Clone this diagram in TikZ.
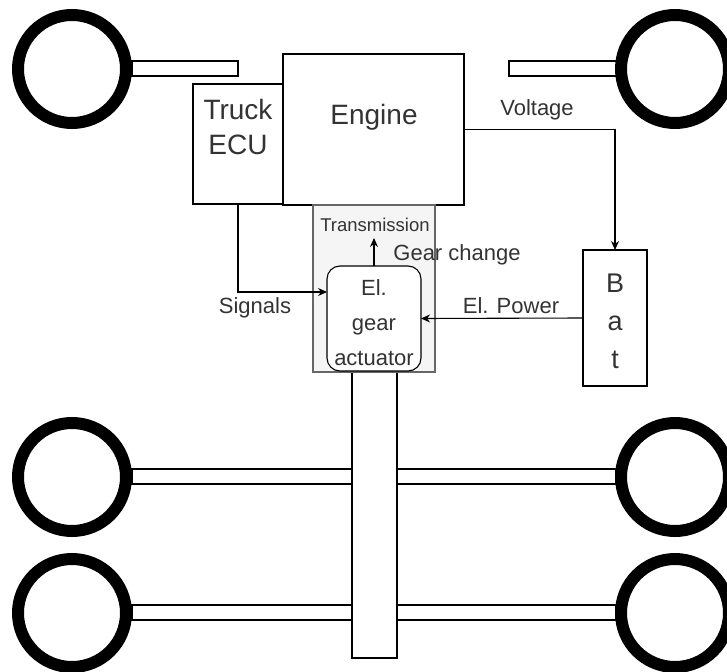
\documentclass[tikz,border=0pt]{standalone}
\usepackage{fontspec}
\setmainfont{Liberation Sans}
\usetikzlibrary{arrows.meta,calc}
\definecolor{txt}{HTML}{333333}
\definecolor{grayfill}{HTML}{F5F5F5}
\definecolor{grayline}{HTML}{666666}
\begin{document}
\begin{tikzpicture}[x=1pt,y=-1pt,
  box/.style={draw=black,line width=1.1pt,fill=white,inner sep=0pt,outer sep=0pt},
  wheel/.style={circle,draw=black,fill=white,line width=12pt,minimum size=108pt,inner sep=0pt,outer sep=0pt},
  axle/.style={draw=black,line width=1.1pt,fill=white,inner sep=0pt,outer sep=0pt,minimum height=15pt},
  conn/.style={draw=black,line width=1.1pt},
  arr/.style={conn,-{Stealth[length=9pt,width=8pt]}},
  lbl/.style={text=txt,inner sep=0pt,anchor=base},
  big/.style={lbl,font=\fontsize{28}{34}\selectfont},
  mid/.style={lbl,font=\fontsize{22}{26}\selectfont},
  small/.style={lbl,font=\fontsize{18.5}{22}\selectfont},
]
\useasboundingbox (0,0) rectangle (727,671);
\clip (0,0) rectangle (727,671);

% axles
\node[axle,minimum width=106pt] (axTL) at (185,68.5) {};
\node[axle,minimum width=108pt] (axTR) at (563,68.5) {};
\node[axle,minimum width=220pt] (axBL1) at (242,476.5) {};
\node[axle,minimum width=220pt] (axBL2) at (242,612.5) {};
\node[axle,minimum width=219pt] (axBR1) at (506.5,476.5) {};
\node[axle,minimum width=219pt] (axBR2) at (506.5,612.5) {};

% wheels
\node[wheel] (wTL) at (72,69) {};
\node[wheel] (wTR) at (675,69) {};
\node[wheel] (wBL1) at (72,477) {};
\node[wheel] (wBL2) at (72,613) {};
\node[wheel] (wBR1) at (675,477) {};
\node[wheel] (wBR2) at (675,613) {};

% shaft
\node[box,minimum width=45pt,minimum height=287pt] (shaft) at (374.5,514.5) {};

% boxes
\node[box,minimum width=90pt,minimum height=120pt] (ecu) at (238,144) {};
\node[box,minimum width=181pt,minimum height=151pt] (engine) at (373.5,129.5) {};
\node[box,draw=grayline,fill=grayfill,minimum width=122pt,minimum height=167pt] (trans) at (374,288.5) {};
\node[box,rounded corners=13pt,minimum width=94pt,minimum height=105pt] (act) at (374,318.5) {};
\node[box,minimum width=64pt,minimum height=136pt] (bat) at (615,318) {};

% box texts
\node[big] (tTruck) at (238,120) {Truck};
\node[big] (tECU) at (238,155) {ECU};
\node[big] (tEngine) at (374,125) {Engine};
\node[small] (tTrans) at (375,231) {Transmission};
\node[mid] (tEl) at (374,295) {El.};
\node[mid] (tGear) at (374,330) {gear};
\node[mid] (tAct) at (374,365) {actuator};
\node[big,font=\fontsize{27}{32}\selectfont] (tB) at (615,292) {B};
\node[big,font=\fontsize{27}{32}\selectfont] (tA) at (615,330) {a};
\node[big,font=\fontsize{27}{32}\selectfont] (tT) at (615,368) {t};

% connectors
\draw[arr] (engine.east) -- (engine.east -| bat.north) -- (bat.north);
\draw[arr] (ecu.south) |- ($(act.west)+(0,-26.5)$);
\draw[arr] (bat.west) -- (act.east);
\draw[arr] (act.north) -- ($(act.north)+(0,-28)$);

% connector labels
\node[mid] (lVolt) at (537,116) {Voltage};
\node[mid] (lSig) at (255,313) {Signals};
\node[mid] (lPow) at (511,313) {El. Power};
\node[mid] (lGear) at (457,260) {Gear change};
\end{tikzpicture}
\end{document}
